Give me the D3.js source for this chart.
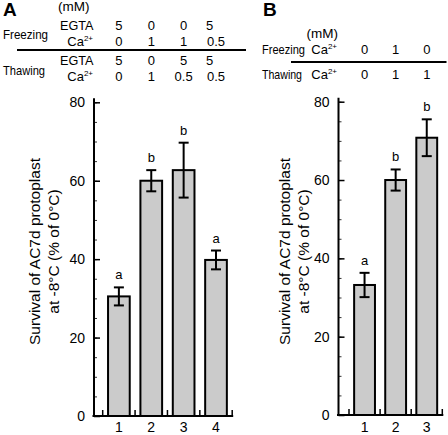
<!DOCTYPE html>
<html><head><meta charset="utf-8">
<script src="https://cdn.jsdelivr.net/npm/d3@7/dist/d3.min.js"></script>
<style>
body{margin:0;background:#fff;}
svg text{font-family:Arial,"Liberation Sans",sans-serif;fill:#000;}
</style></head>
<body><svg id="c" width="448" height="435"></svg>
<script>
// ---- data ----
const catsA = ["1","2","3","4"];
const valsA = [30.5, 60.0, 62.7, 39.8];
const errA  = [2.3, 2.7, 7.0, 2.4];
const lettersA = ["a","b","b","a"];
const freezeEgtaA = ["5","0","0","5"];
const freezeCaA   = ["0","1","1","0.5"];
const thawEgtaA   = ["5","0","5","5"];
const thawCaA     = ["0","1","0.5","0.5"];

const catsB = ["1","2","3"];
const valsB = [33.2, 60.0, 70.8];
const errB  = [3.1, 2.7, 4.7];
const lettersB = ["a","b","b"];
const freezeCaB = ["0","1","0"];
const thawCaB   = ["0","1","1"];

const yMajor = [0,20,40,60,80];
const yMinor = d3.range(0,81,5);
const yTitle = ["Survival of AC7d protoplast","at -8°C (% of 0°C)"];

const svg = d3.select("#c");
const FS = 13;

function panel(o){
  const g = svg.append("g");
  const x = d3.scaleBand().domain(o.cats).range(o.xr).padding(0);
  const y = d3.scaleLinear().domain([0,80]).range(o.yr);
  const bw = x.bandwidth()*0.67;
  // minor ticks
  g.append("g").attr("transform",`translate(${o.ax},0)`)
    .call(d3.axisLeft(y).tickValues(yMinor).tickSizeInner(-3).tickSizeOuter(0).tickFormat(""))
    .call(s=>s.select(".domain").remove())
    .call(s=>s.selectAll("line").attr("stroke-width",1).attr("stroke","#333"));
  // major
  const ya = g.append("g").attr("transform",`translate(${o.ax},0)`)
    .call(d3.axisLeft(y).tickValues(yMajor).tickSizeInner(-6).tickSizeOuter(0).tickPadding(9));
  ya.select(".domain").remove();
  ya.selectAll("line").attr("stroke-width",1.5);
  ya.selectAll("text").style("font-size","14px").attr("fill","#000");
  g.append("line").attr("x1",o.ax).attr("x2",o.ax).attr("y1",y(80)-4).attr("y2",y(0)+1)
    .attr("stroke","#000").attr("stroke-width",2);
  // x axis
  const xa = g.append("g").attr("transform",`translate(0,${y(0)})`)
    .call(d3.axisBottom(x).tickSize(0).tickPadding(0));
  xa.select(".domain").remove();
  xa.selectAll("text").style("font-size","14px").attr("dy",null).attr("y",432-o.yr[0]);
  g.append("line").attr("x1",o.ax-1.5).attr("x2",x.range()[1]+1).attr("y1",y(0)).attr("y2",y(0))
    .attr("stroke","#000").attr("stroke-width",2);
  const bounds = o.cats.map(d=>x(d)).concat([x.range()[1]]);
  g.selectAll(".xt").data(bounds).join("line")
    .attr("x1",d=>d).attr("x2",d=>d).attr("y1",y(0)).attr("y2",y(0)-6)
    .attr("stroke","#000").attr("stroke-width",1.5);
  // bars
  const cx = d=>x(d)+x.bandwidth()/2;
  g.selectAll(".bar").data(o.cats).join("rect")
    .attr("x",d=>cx(d)-bw/2).attr("width",bw)
    .attr("y",(d,i)=>y(o.vals[i])).attr("height",(d,i)=>y(0)-y(o.vals[i]))
    .attr("fill","#cbcbcb").attr("stroke","#000").attr("stroke-width",2);
  // error bars
  o.cats.forEach((d,i)=>{
    const c = cx(d), hi = y(o.vals[i]+o.err[i]), lo = y(o.vals[i]-o.err[i]);
    g.append("line").attr("x1",c).attr("x2",c).attr("y1",hi).attr("y2",lo).attr("stroke","#000").attr("stroke-width",2);
    [hi,lo].forEach(yy=>g.append("line").attr("x1",c-5).attr("x2",c+5).attr("y1",yy).attr("y2",yy).attr("stroke","#000").attr("stroke-width",2));
    g.append("text").attr("x",c).attr("y",hi-8).attr("text-anchor","middle").style("font-size","13px").text(o.letters[i]);
  });
  // y title
  const t = g.append("text").attr("transform",`translate(${o.tx},${o.ty}) rotate(-90)`)
    .attr("text-anchor","middle").style("font-size","15.5px");
  yTitle.forEach((s,i)=>t.append("tspan").attr("x",0).attr("dy",i?18.5:0).text(s));
  return {x,y,cx};
}

const A = panel({cats:catsA, vals:valsA, err:errA, letters:lettersA, xr:[102.7,232.2], yr:[416,102.3], ax:94, tx:40, ty:251.5});
const B = panel({cats:catsB, vals:valsB, err:errB, letters:lettersB, xr:[349,442.3], yr:[415,101.7], ax:338.5, tx:290, ty:251.5});

function txt(x,y,s,anchor,size,weight,len){
  const t = svg.append("text").attr("x",x).attr("y",y).attr("text-anchor",anchor||"start")
    .style("font-size",(size||FS)+"px").style("font-weight",weight||"normal").text(s);
  if(len) t.attr("textLength",len).attr("lengthAdjust","spacingAndGlyphs");
  return t;
}
function ca(x,y){
  const t = svg.append("text").attr("x",x).attr("y",y).attr("text-anchor","end").style("font-size",FS+"px");
  t.append("tspan").text("Ca");
  t.append("tspan").attr("dy",-5).style("font-size","8px").text("2+");
}
// ---- Panel A table ----
txt(3,16,"A","start",19,"bold");
txt(58,11,"(mM)","start",13.5);
txt(3,39,"Freezing","start",13,null,45);
txt(93.5,30,"EGTA","end",13,null,33.5);
ca(93,46);
svg.append("line").attr("x1",17).attr("x2",246).attr("y1",50).attr("y2",50).attr("stroke","#000").attr("stroke-width",2.2);
txt(3,75,"Thawing","start",13,null,42);
txt(93.5,65,"EGTA","end",13,null,33.5);
ca(93,81);
function rowA(arr,yy){
  arr.forEach((s,i)=>{
    const c = A.cx(catsA[i]);
    if(i===3 && s.length===1) txt(c-6.5,yy,s,"middle");
    else txt(c,yy,s,"middle");
  });
}
rowA(freezeEgtaA,30); rowA(freezeCaA,46); rowA(thawEgtaA,65); rowA(thawCaA,81);

// ---- Panel B table ----
txt(263,16,"B","start",19,"bold");
txt(306.5,37.5,"(mM)","start",13.5);
txt(262,54,"Freezing","start",13,null,43);
ca(337,54);
svg.append("line").attr("x1",291).attr("x2",446.5).attr("y1",62).attr("y2",62).attr("stroke","#000").attr("stroke-width",2.2);
txt(262,79,"Thawing","start",13,null,40);
ca(337,79);
freezeCaB.forEach((s,i)=>txt(B.cx(catsB[i]),54,s,"middle"));
thawCaB.forEach((s,i)=>txt(B.cx(catsB[i]),79,s,"middle"));
</script></body></html>
